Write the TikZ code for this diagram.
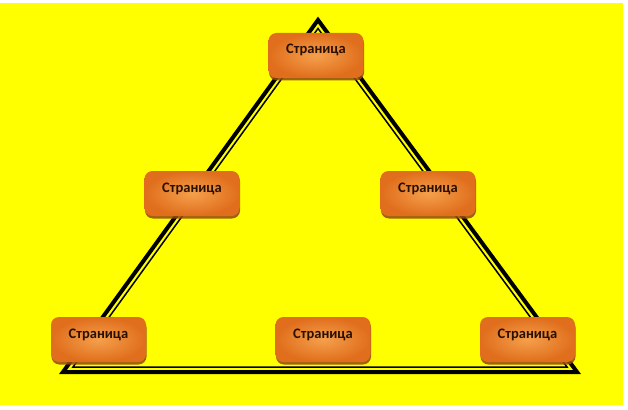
\documentclass[tikz,border=0pt]{standalone}
\usepackage{fontspec}
\setsansfont{Carlito}
\usetikzlibrary{shadows}
\definecolor{pagebg}{HTML}{FFFF00}
\definecolor{boxedge}{HTML}{E06E1C}
\definecolor{boxglow}{HTML}{F5A04C}
\definecolor{boxtext}{HTML}{2A1000}

\begin{document}
\begin{tikzpicture}[
  x=1pt, y=-1pt,
  page/.style={rounded corners=8pt, minimum width=95pt, inner xsep=2pt,
               inner ysep=11pt, text height=10pt, text depth=13pt,
               inner color=boxglow, outer color=boxedge, text=boxtext,
               font=\sffamily\bfseries\fontsize{14.5}{16}\selectfont,
               drop shadow={shadow xshift=0.5pt, shadow yshift=-2.5pt,
                            fill=boxedge!65!black, opacity=0.85}},
  outer/.style={line width=4pt, line join=miter},
  inner/.style={line width=1.5pt, line join=miter},
]
  % background
  \useasboundingbox (0,0) rectangle (628,409);
  \fill[white] (0,0) rectangle (628,409);
  \fill[pagebg] (0,3) rectangle (623,405);

  % triangle
  \coordinate (top) at (318,20);
  \coordinate (bl) at (63,372);
  \coordinate (br) at (577,372);
  \coordinate (itop) at (318,28.5);
  \coordinate (ibl) at (73,367);
  \coordinate (ibr) at (567,367);
  \draw[outer] (top) -- (br) -- (bl) -- cycle;
  \draw[inner] (itop) -- (ibr) -- (ibl) -- cycle;

  % pages
  \node[page] (p1) at (316,55.5) {Страница};
  \node[page] (p2) at (192,193.5) {Страница};
  \node[page] (p3) at (428,193.5) {Страница};
  \node[page] (p4) at (98.5,339.5) {Страница};
  \node[page] (p5) at (323,339.5) {Страница};
  \node[page] (p6) at (527.5,339.5) {Страница};
\end{tikzpicture}
\end{document}
